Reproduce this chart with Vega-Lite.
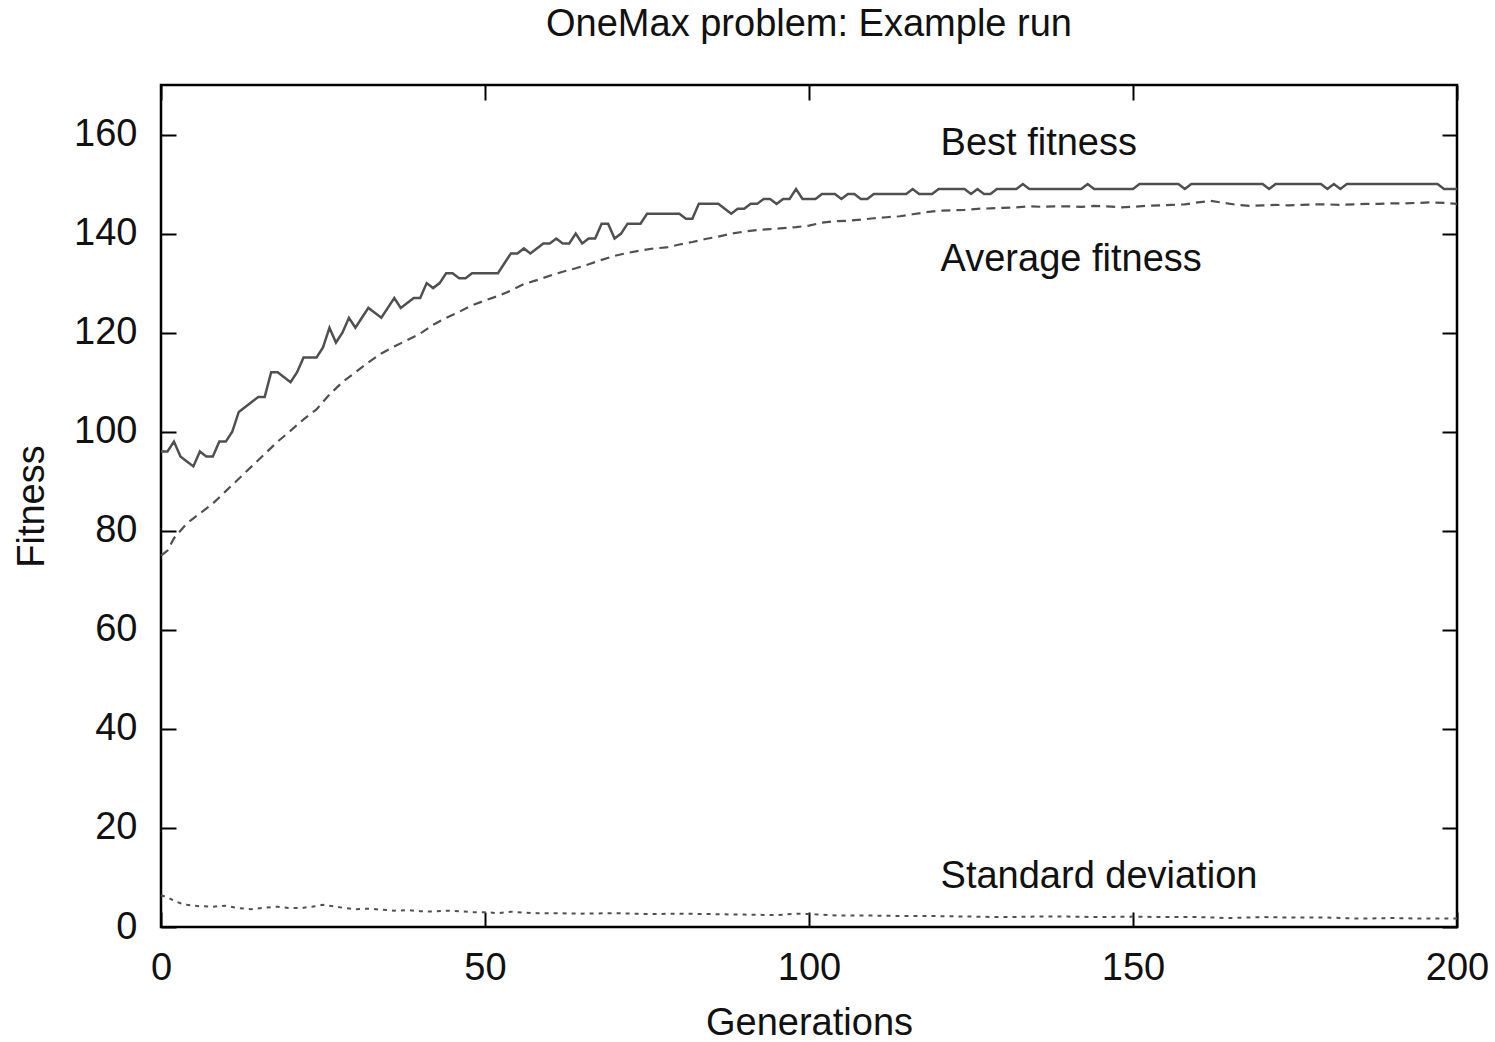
{
  "$schema": "https://vega.github.io/schema/vega-lite/v6.json",
  "width": 1296,
  "height": 842,
  "autosize": {"type": "none"},
  "padding": {"left": 161, "top": 85, "right": 38, "bottom": 115},
  "background": "white",
  "title": {"text": "OneMax problem: Example run", "fontSize": 38, "font": "Liberation Sans", "fontWeight": "normal", "color": "#111", "offset": 40, "anchor": "middle"},
  "config": {
    "view": {"stroke": "#000", "strokeWidth": 2.5},
    "axis": {"domain": false, "grid": false, "tickColor": "#000", "tickWidth": 2, "tickSize": -15,
      "labelFont": "Liberation Sans", "labelFontSize": 38, "labelColor": "#111", "labelFlush": false,
      "titleFont": "Liberation Sans", "titleFontSize": 38, "titleFontWeight": "normal", "titleColor": "#111"}
  },
  "datasets": {
    "best": [
      {"gen":0,"value":96},{"gen":1,"value":96},{"gen":2,"value":98},{"gen":3,"value":95},{"gen":4,"value":94},{"gen":5,"value":93},{"gen":6,"value":96},{"gen":7,"value":95},{"gen":8,"value":95},{"gen":9,"value":98},{"gen":10,"value":98},{"gen":11,"value":100},{"gen":12,"value":104},{"gen":13,"value":105},{"gen":14,"value":106},{"gen":15,"value":107},{"gen":16,"value":107},{"gen":17,"value":112},{"gen":18,"value":112},{"gen":19,"value":111},{"gen":20,"value":110},{"gen":21,"value":112},{"gen":22,"value":115},{"gen":23,"value":115},{"gen":24,"value":115},{"gen":25,"value":117},{"gen":26,"value":121},{"gen":27,"value":118},{"gen":28,"value":120},{"gen":29,"value":123},{"gen":30,"value":121},{"gen":31,"value":123},{"gen":32,"value":125},{"gen":33,"value":124},{"gen":34,"value":123},{"gen":35,"value":125},{"gen":36,"value":127},{"gen":37,"value":125},{"gen":38,"value":126},{"gen":39,"value":127},{"gen":40,"value":127},{"gen":41,"value":130},{"gen":42,"value":129},{"gen":43,"value":130},{"gen":44,"value":132},{"gen":45,"value":132},{"gen":46,"value":131},{"gen":47,"value":131},{"gen":48,"value":132},{"gen":52,"value":132},{"gen":53,"value":134},{"gen":54,"value":136},{"gen":55,"value":136},{"gen":56,"value":137},{"gen":57,"value":136},{"gen":58,"value":137},{"gen":59,"value":138},{"gen":60,"value":138},{"gen":61,"value":139},{"gen":62,"value":138},{"gen":63,"value":138},{"gen":64,"value":140},{"gen":65,"value":138},{"gen":66,"value":139},{"gen":67,"value":139},{"gen":68,"value":142},{"gen":69,"value":142},{"gen":70,"value":139},{"gen":71,"value":140},{"gen":72,"value":142},{"gen":74,"value":142},{"gen":75,"value":144},{"gen":80,"value":144},{"gen":81,"value":143},{"gen":82,"value":143},{"gen":83,"value":146},{"gen":86,"value":146},{"gen":87,"value":145},{"gen":88,"value":144},{"gen":89,"value":145},{"gen":90,"value":145},{"gen":91,"value":146},{"gen":92,"value":146},{"gen":93,"value":147},{"gen":94,"value":147},{"gen":95,"value":146},{"gen":96,"value":147},{"gen":97,"value":147},{"gen":98,"value":149},{"gen":99,"value":147},{"gen":101,"value":147},{"gen":102,"value":148},{"gen":104,"value":148},{"gen":105,"value":147},{"gen":106,"value":148},{"gen":107,"value":148},{"gen":108,"value":147},{"gen":109,"value":147},{"gen":110,"value":148},{"gen":115,"value":148},{"gen":116,"value":149},{"gen":117,"value":148},{"gen":119,"value":148},{"gen":120,"value":149},{"gen":124,"value":149},{"gen":125,"value":148},{"gen":126,"value":149},{"gen":127,"value":148},{"gen":128,"value":148},{"gen":129,"value":149},{"gen":132,"value":149},{"gen":133,"value":150},{"gen":134,"value":149},{"gen":142,"value":149},{"gen":143,"value":150},{"gen":144,"value":149},{"gen":150,"value":149},{"gen":151,"value":150},{"gen":157,"value":150},{"gen":158,"value":149},{"gen":159,"value":150},{"gen":170,"value":150},{"gen":171,"value":149},{"gen":172,"value":150},{"gen":179,"value":150},{"gen":180,"value":149},{"gen":181,"value":150},{"gen":182,"value":149},{"gen":183,"value":150},{"gen":197,"value":150},{"gen":198,"value":149},{"gen":200,"value":149}
    ],
    "avg": [
      {"gen":0,"value":75},{"gen":1,"value":76},{"gen":2,"value":78.5},{"gen":3,"value":80},{"gen":4,"value":81.5},{"gen":5,"value":82.5},{"gen":6,"value":83.5},{"gen":8,"value":85.5},{"gen":10,"value":88},{"gen":12,"value":90.5},{"gen":14,"value":93},{"gen":16,"value":95.5},{"gen":18,"value":98},{"gen":20,"value":100.2},{"gen":22,"value":102.5},{"gen":24,"value":104.5},{"gen":26,"value":107.5},{"gen":28,"value":110},{"gen":30,"value":112},{"gen":32,"value":114},{"gen":34,"value":115.8},{"gen":36,"value":117.2},{"gen":38,"value":118.5},{"gen":40,"value":119.8},{"gen":42,"value":121.6},{"gen":44,"value":123},{"gen":46,"value":124.2},{"gen":48,"value":125.5},{"gen":50,"value":126.5},{"gen":52,"value":127.4},{"gen":54,"value":128.5},{"gen":56,"value":129.8},{"gen":58,"value":130.6},{"gen":60,"value":131.5},{"gen":62,"value":132.3},{"gen":64,"value":133},{"gen":66,"value":133.8},{"gen":68,"value":134.7},{"gen":70,"value":135.5},{"gen":72,"value":136.1},{"gen":74,"value":136.6},{"gen":76,"value":137},{"gen":78,"value":137.2},{"gen":80,"value":137.8},{"gen":82,"value":138.3},{"gen":84,"value":138.9},{"gen":86,"value":139.4},{"gen":88,"value":140},{"gen":90,"value":140.4},{"gen":92,"value":140.7},{"gen":94,"value":140.9},{"gen":96,"value":141.1},{"gen":98,"value":141.3},{"gen":100,"value":141.6},{"gen":102,"value":142.2},{"gen":104,"value":142.5},{"gen":106,"value":142.6},{"gen":108,"value":142.8},{"gen":110,"value":143.1},{"gen":112,"value":143.3},{"gen":114,"value":143.5},{"gen":116,"value":143.9},{"gen":118,"value":144.3},{"gen":120,"value":144.6},{"gen":122,"value":144.7},{"gen":124,"value":144.8},{"gen":126,"value":145},{"gen":128,"value":145.1},{"gen":130,"value":145.2},{"gen":132,"value":145.3},{"gen":134,"value":145.5},{"gen":136,"value":145.4},{"gen":138,"value":145.5},{"gen":140,"value":145.5},{"gen":142,"value":145.4},{"gen":144,"value":145.6},{"gen":146,"value":145.5},{"gen":148,"value":145.3},{"gen":150,"value":145.4},{"gen":152,"value":145.6},{"gen":154,"value":145.7},{"gen":156,"value":145.8},{"gen":158,"value":145.9},{"gen":160,"value":146.3},{"gen":162,"value":146.6},{"gen":164,"value":146.2},{"gen":166,"value":145.8},{"gen":168,"value":145.6},{"gen":170,"value":145.7},{"gen":172,"value":145.8},{"gen":174,"value":145.7},{"gen":176,"value":145.8},{"gen":178,"value":145.9},{"gen":180,"value":145.9},{"gen":182,"value":145.8},{"gen":184,"value":145.9},{"gen":186,"value":146},{"gen":188,"value":146},{"gen":190,"value":146.1},{"gen":192,"value":146.1},{"gen":194,"value":146.2},{"gen":196,"value":146.3},{"gen":198,"value":146.2},{"gen":200,"value":146}
    ],
    "sd": [
      {"gen":0,"value":6.4},{"gen":1,"value":6.0},{"gen":2,"value":5.3},{"gen":3,"value":4.8},{"gen":4,"value":4.5},{"gen":5,"value":4.3},{"gen":6,"value":4.2},{"gen":8,"value":4.1},{"gen":10,"value":4.3},{"gen":12,"value":3.8},{"gen":14,"value":3.6},{"gen":16,"value":3.9},{"gen":18,"value":4.1},{"gen":20,"value":3.8},{"gen":22,"value":3.9},{"gen":24,"value":4.2},{"gen":25,"value":4.5},{"gen":26,"value":4.3},{"gen":28,"value":3.9},{"gen":30,"value":3.6},{"gen":32,"value":3.7},{"gen":34,"value":3.5},{"gen":36,"value":3.3},{"gen":38,"value":3.4},{"gen":40,"value":3.2},{"gen":42,"value":3.1},{"gen":44,"value":3.3},{"gen":46,"value":3.2},{"gen":48,"value":3.0},{"gen":50,"value":3.0},{"gen":52,"value":2.8},{"gen":54,"value":3.1},{"gen":56,"value":2.9},{"gen":58,"value":2.8},{"gen":60,"value":2.8},{"gen":65,"value":2.7},{"gen":70,"value":2.8},{"gen":75,"value":2.6},{"gen":80,"value":2.7},{"gen":85,"value":2.6},{"gen":90,"value":2.5},{"gen":95,"value":2.4},{"gen":98,"value":2.7},{"gen":100,"value":2.6},{"gen":105,"value":2.3},{"gen":110,"value":2.3},{"gen":115,"value":2.2},{"gen":120,"value":2.2},{"gen":125,"value":2.1},{"gen":130,"value":2.0},{"gen":135,"value":2.1},{"gen":140,"value":2.1},{"gen":145,"value":2.0},{"gen":150,"value":2.1},{"gen":155,"value":2.0},{"gen":160,"value":2.0},{"gen":165,"value":1.8},{"gen":170,"value":2.0},{"gen":175,"value":1.9},{"gen":180,"value":1.9},{"gen":185,"value":1.7},{"gen":190,"value":1.8},{"gen":195,"value":1.7},{"gen":200,"value":1.7}
    ],
    "labels": [
      {"gen":120.3,"value":158,"label":"Best fitness"},
      {"gen":120.3,"value":134.6,"label":"Average fitness"},
      {"gen":120.3,"value":10.1,"label":"Standard deviation"}
    ]
  },
  "resolve": {"axis": {"x": "independent", "y": "independent"}},
  "layer": [
    {
      "data": {"name": "best"},
      "mark": {"type": "line", "color": "#505050", "strokeWidth": 2.5},
      "encoding": {
        "x": {"field": "gen", "type": "quantitative", "scale": {"domain": [0, 200], "nice": false},
          "axis": {"orient": "bottom", "values": [0, 50, 100, 150, 200], "title": "Generations", "labelPadding": 37, "titlePadding": 17}},
        "y": {"field": "value", "type": "quantitative", "scale": {"domain": [0, 170], "nice": false},
          "axis": {"orient": "left", "values": [0, 20, 40, 60, 80, 100, 120, 140, 160], "title": "Fitness", "labelPadding": 39, "titlePadding": 22}}
      }
    },
    {
      "data": {"name": "avg"},
      "mark": {"type": "line", "color": "#505050", "strokeWidth": 2.2, "strokeDash": [9, 6]},
      "encoding": {
        "x": {"field": "gen", "type": "quantitative", "axis": {"orient": "top", "values": [0, 50, 100, 150, 200], "labels": false, "title": null}},
        "y": {"field": "value", "type": "quantitative", "axis": {"orient": "right", "values": [0, 20, 40, 60, 80, 100, 120, 140, 160], "labels": false, "title": null}}
      }
    },
    {
      "data": {"name": "sd"},
      "mark": {"type": "line", "color": "#505050", "strokeWidth": 2, "strokeDash": [4, 5]},
      "encoding": {
        "x": {"field": "gen", "type": "quantitative", "axis": null},
        "y": {"field": "value", "type": "quantitative", "axis": null}
      }
    },
    {
      "data": {"name": "labels"},
      "mark": {"type": "text", "align": "left", "baseline": "middle", "font": "Liberation Sans", "fontSize": 38, "color": "#111"},
      "encoding": {
        "x": {"field": "gen", "type": "quantitative", "axis": null},
        "y": {"field": "value", "type": "quantitative", "axis": null},
        "text": {"field": "label"}
      }
    }
  ]
}
